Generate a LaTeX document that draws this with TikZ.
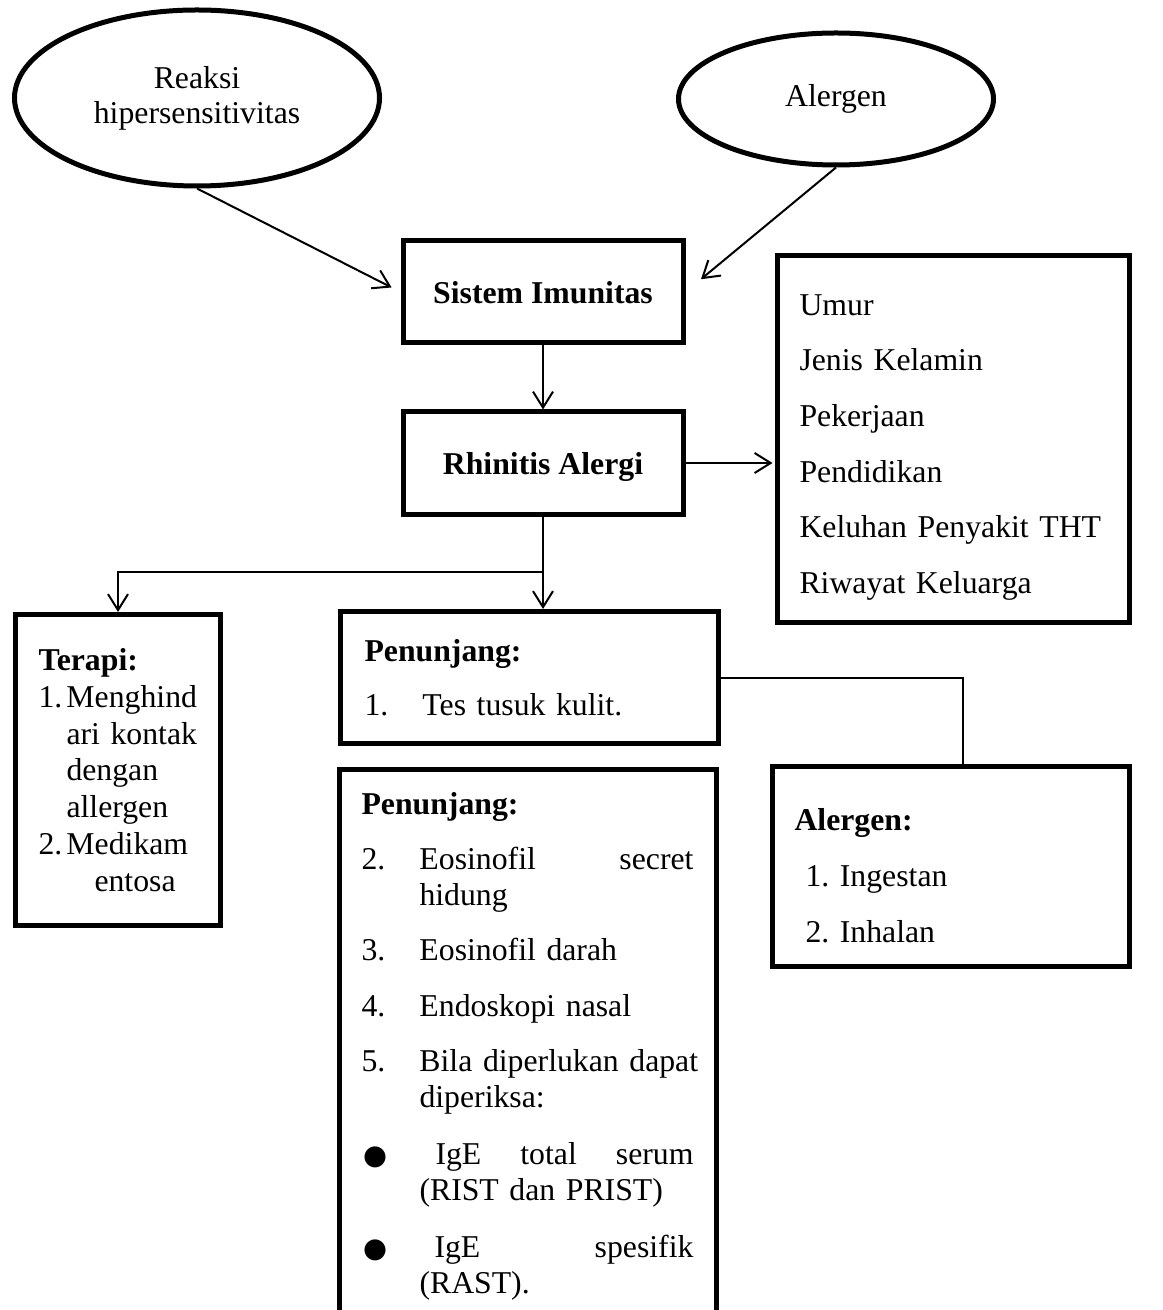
\documentclass[tikz,border=0pt]{standalone}
\usepackage{fontspec}
\setmainfont{Liberation Serif}
\newfontfamily\bulletfont{DejaVu Sans}
\usetikzlibrary{arrows.meta, positioning, shapes.geometric}
\frenchspacing
\newcommand{\nomor}[1]{\makebox[23.2pt][l]{#1}}
\newcommand{\isi}[1]{\makebox[109.6pt][s]{#1}}
\newcommand{\titik}{\hspace{0.6pt}{\bulletfont\fontsize{11}{11}\selectfont ●}}

\begin{document}
\begin{tikzpicture}[
      x=0.4pt, y=-0.4pt,
      bubble/.style={ellipse, draw, line width=2pt, inner sep=0pt, align=center, font=\fontsize{12.7}{14}\selectfont},
      mainbox/.style={rectangle, draw, line width=2pt, minimum width=112pt, minimum height=40.8pt, text height=9pt, text depth=0pt, font=\fontsize{12.7}{14}\selectfont\bfseries},
      listbox/.style={rectangle, draw, line width=2pt, anchor=north west, inner ysep=0pt, align=left},
      arrow/.style={-{Straight Barb[length=6.4pt, width=8pt]}, line width=0.8pt},
      link/.style={-, line width=0.8pt},
    ]
    \useasboundingbox (0,0) rectangle (1162,1310);
    \clip (0,0) rectangle (1162,1310);

    \node[bubble, minimum width=146pt, minimum height=70.4pt] (reaksi) at (197,98) {Reaksi\\hipersensitivitas};
    \node[bubble, minimum width=126pt, minimum height=52.8pt] (alergen) at (836,99) {Alergen};

    \node[mainbox] (sistem) at (543,292) {Sistem Imunitas};
    \node[mainbox] (rhinitis) at (543,463) {Rhinitis Alergi};

    \node[listbox, text width=123.2pt, inner xsep=8.8pt, text height=24pt, text depth=122.8pt, font=\fontsize{12.7}{22.2}\selectfont] (faktor) at (775,253)
      {Umur\\Jenis Kelamin\\Pekerjaan\\Pendidikan\\Keluhan Penyakit THT\\Riwayat Keluarga};

    \node[listbox, text width=63.6pt, inner xsep=9.2pt, text height=22.4pt, text depth=102pt, font=\fontsize{12.7}{14.7}\selectfont] (terapi) at (13,612)
      {\textbf{Terapi:}\\\makebox[11.2pt][l]{1.}Menghind\\\hspace*{11.2pt}ari~kontak\\\hspace*{11.2pt}dengan\\\hspace*{11.2pt}allergen\\\makebox[11.2pt][l]{2.}Medikam\\\hspace*{22.4pt}entosa};

    \node[listbox, text width=132pt, inner xsep=9.6pt, text height=20pt, text depth=32.8pt, font=\fontsize{12.7}{21.6}\selectfont] (penunjangA) at (338,609)
      {\textbf{Penunjang:}\\\nomor{1.}Tes tusuk kulit.};

    % kotak ini terpotong di tepi bawah gambar
    \node[listbox, text width=133.2pt, inner xsep=8.8pt, text height=18pt, text depth=212pt, font=\fontsize{12.7}{14.4}\selectfont] (penunjangB) at (337,767)
      {\textbf{Penunjang:}\\[7.4pt]
       \nomor{2.}\isi{Eosinofil\hfill secret}\\
       \nomor{}hidung\\[7.8pt]
       \nomor{3.}Eosinofil darah\\[7.8pt]
       \nomor{4.}Endoskopi nasal\\[7.8pt]
       \nomor{5.}\isi{Bila diperlukan dapat}\\
       \nomor{}diperiksa:\\[8.4pt]
       \nomor{\titik}\isi{\hspace{6.4pt}IgE\hfill total\hfill serum}\\
       \nomor{}(RIST dan PRIST)\\[8.4pt]
       \nomor{\titik}\isi{\hspace{6pt}IgE\hfill spesifik}\\
       \nomor{}(RAST).};

    \node[listbox, text width=125.2pt, inner xsep=8.8pt, text height=25.6pt, text depth=54.4pt, font=\fontsize{12.7}{22.4}\selectfont] (alergenbox) at (770,764)
      {\textbf{Alergen:}\\\hspace*{4.4pt}1. Ingestan\\\hspace*{4.4pt}2. Inhalan};

    \coordinate (cabang) at ([yshift=-22pt]rhinitis.south);

    \draw[arrow, shorten >=4pt] (reaksi.south) -- (sistem.west);
    \draw[arrow, shorten >=8pt] (alergen.south) -- (sistem.east);
    \draw[arrow] (sistem) -- (rhinitis);
    \draw[arrow, shorten >=1pt] (rhinitis.east) -- (rhinitis.east -| faktor.west);
    \draw[arrow] (rhinitis.south) -- (rhinitis.south |- penunjangA.north);
    \draw[arrow] (cabang) -| (terapi.north);
    \draw[link] (penunjangA.east) -| ([xshift=4.6pt]alergenbox.north);
  \end{tikzpicture}
\end{document}
